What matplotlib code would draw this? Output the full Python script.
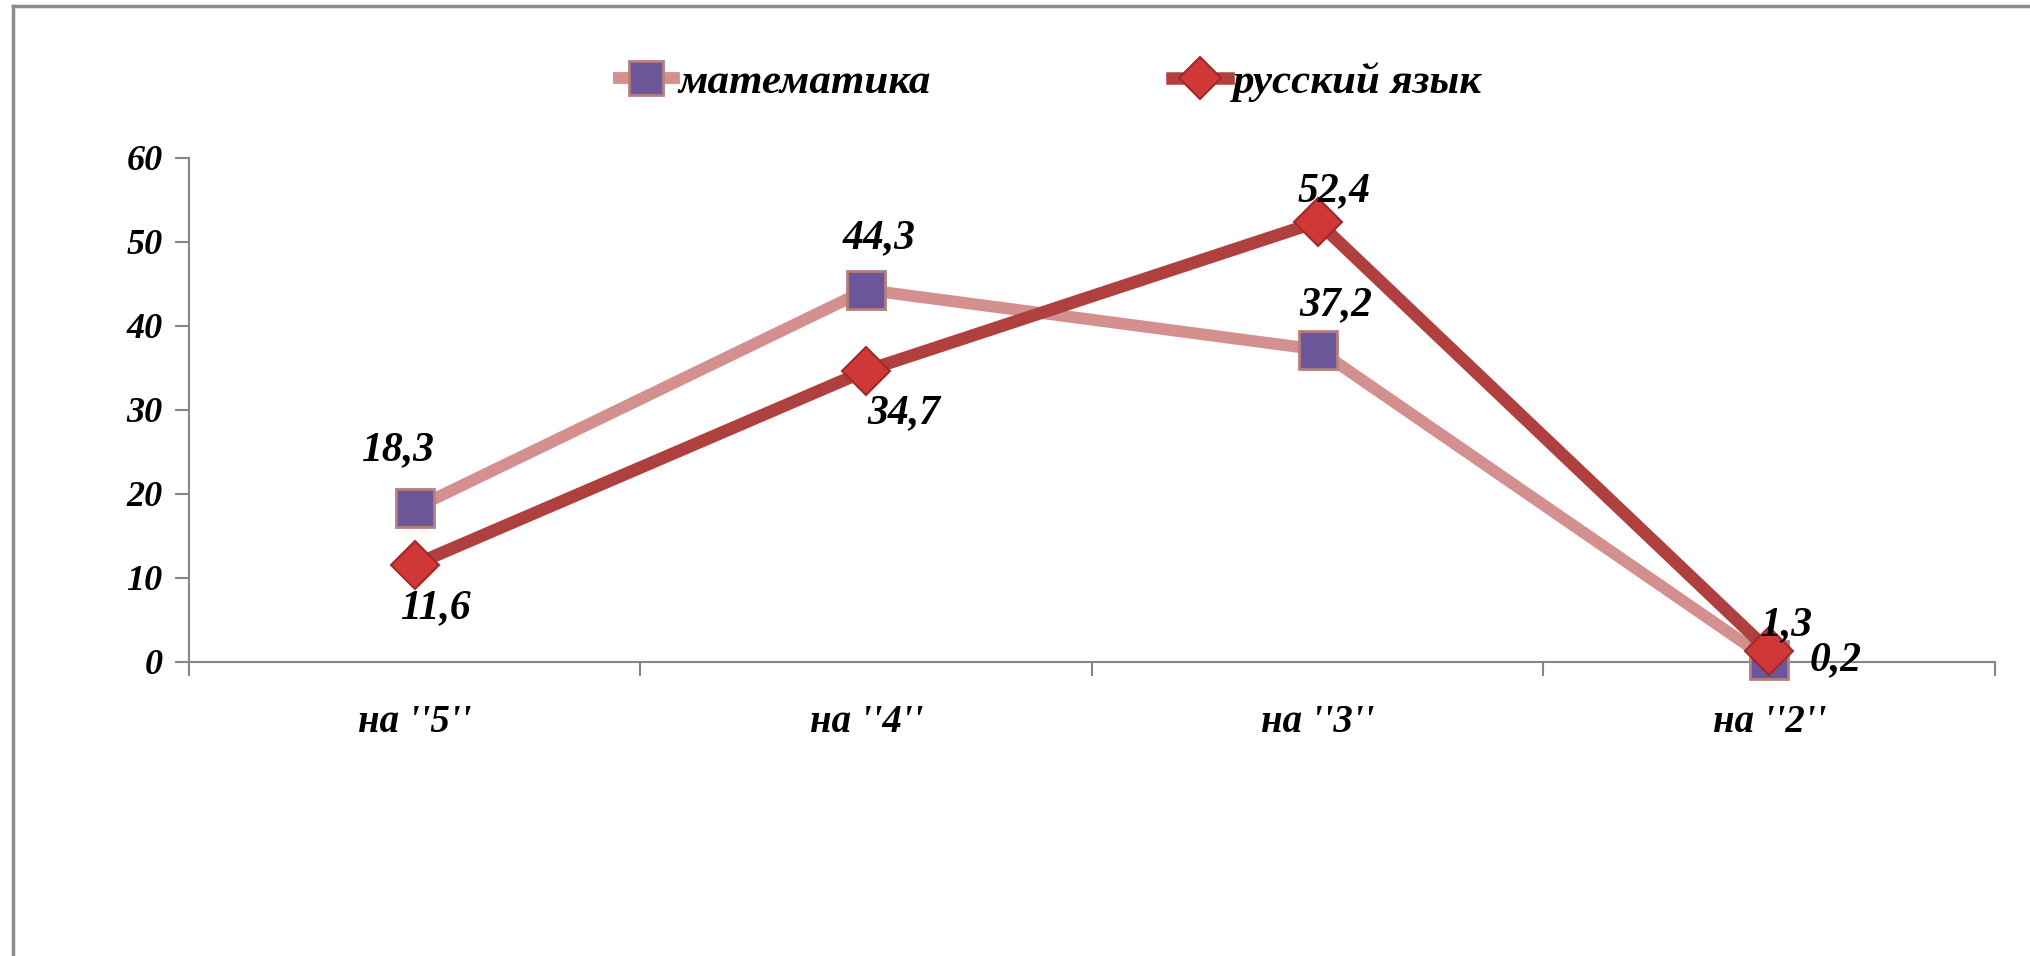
import matplotlib.pyplot as plt
from matplotlib.lines import Line2D

# data
categories = ["на ''5''", "на ''4''", "на ''3''", "на ''2''"]
math_vals = [18.3, 44.3, 37.2, 0.2]
rus_vals = [11.6, 34.7, 52.4, 1.3]
series_names = ['математика', 'русский язык']

# label offsets in pixels (Excel-like placement)
math_off = [(-17, 58), (13, 52), (18, 44), (66, 0)]
rus_off = [(21, -44), (38, -43), (16, 31), (17, 26)]

font = 'Liberation Serif'
plt.rcParams['font.family'] = [font, 'DejaVu Serif']

fig = plt.figure(figsize=(20.31, 9.56), dpi=100)
ax = fig.add_axes([189/2031, 1-662/956, (1995-189)/2031, (662-158)/956])

x = list(range(len(categories)))
ax.plot(x, math_vals, color='#D48F8F', lw=8.5, marker='s', ms=27,
        mfc='#6B5699', mec='#B57E7E', mew=2, zorder=3, solid_capstyle='round')
ax.plot(x, rus_vals, color='#B0403F', lw=9, marker='D', ms=24,
        mfc='#D03838', mec='#A02A2A', mew=1.5, zorder=4, solid_capstyle='round')

for xi, v, (dx, dy) in zip(x, math_vals, math_off):
    ax.annotate(f'{v}'.replace('.', ','), (xi, v), xytext=(dx*0.72, dy*0.72),
                textcoords='offset points', ha='center', va='center',
                fontsize=30, fontweight='bold', fontstyle='italic', zorder=6)
for xi, v, (dx, dy) in zip(x, rus_vals, rus_off):
    ax.annotate(f'{v}'.replace('.', ','), (xi, v), xytext=(dx*0.72, dy*0.72),
                textcoords='offset points', ha='center', va='center',
                fontsize=30, fontweight='bold', fontstyle='italic', zorder=6)

ax.set_xlim(-0.5, len(categories) - 0.5)
ax.set_ylim(0, 60)
ax.set_yticks(range(0, 61, 10))
ax.set_xticks([i - 0.5 for i in range(len(categories) + 1)])
ax.set_xticklabels([])
ax.set_xticks(x, minor=True)
ax.set_xticklabels(categories, minor=True)
ax.tick_params(axis='x', which='minor', length=0, pad=30)
ax.tick_params(axis='x', which='major', length=10, width=1.5, color='#868686', direction='out')
ax.tick_params(axis='y', length=10, width=1.5, color='#868686', direction='out', pad=9)
for lab in ax.get_yticklabels():
    lab.set_fontsize(26)
    lab.set_fontweight('bold')
    lab.set_fontstyle('italic')
for lab in ax.get_xticklabels(minor=True):
    lab.set_fontsize(28)
    lab.set_fontweight('bold')
    lab.set_fontstyle('italic')

for s in ['top', 'right']:
    ax.spines[s].set_visible(False)
for s in ['left', 'bottom']:
    ax.spines[s].set_color('#868686')
    ax.spines[s].set_linewidth(1.5)
for ln in ax.lines:
    ln.set_clip_on(False)

# outer frame (top and left only visible)
fig.add_artist(Line2D([13/2031, 1], [1-6/956, 1-6/956], color='#8C8C8C', lw=2.5))
fig.add_artist(Line2D([13/2031, 13/2031], [0, 1-6/956], color='#8C8C8C', lw=2.5))

# legend
handles = [Line2D([], [], color='#D48F8F', lw=8.5, marker='s', ms=25,
                  mfc='#6B5699', mec='#B57E7E', mew=2),
           Line2D([], [], color='#B0403F', lw=9, marker='D', ms=21,
                  mfc='#D03838', mec='#A02A2A', mew=1.5)]
fig.legend(handles, series_names, loc='center', bbox_to_anchor=(0.517, 1-82/956),
           ncol=2, frameon=False, handlelength=1.3, handletextpad=0.1,
           columnspacing=5.6, prop={'family': font, 'size': 31,
                                    'weight': 'bold', 'style': 'italic'})

fig.savefig('out.png', dpi=100)
